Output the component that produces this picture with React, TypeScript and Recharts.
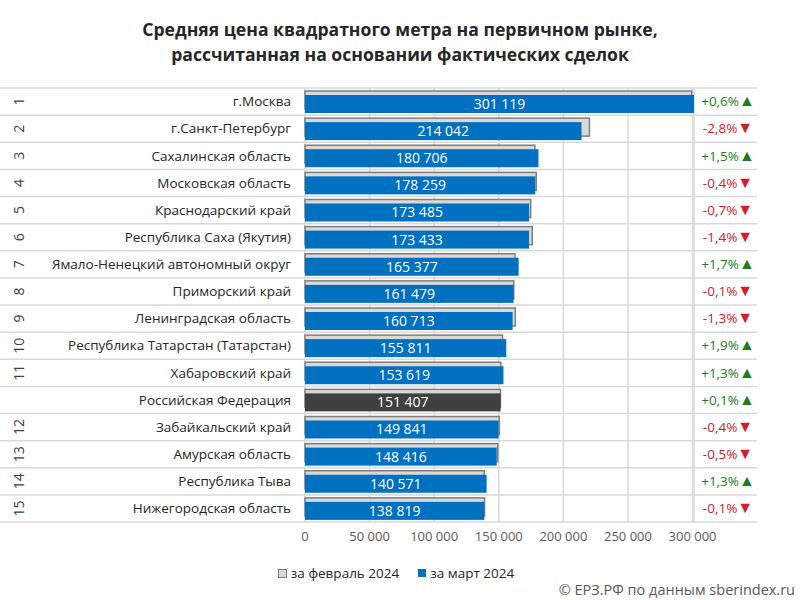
import React from "react";
import { BarChart, Bar, XAxis, YAxis, CartesianGrid, LabelList } from "recharts";

const regions = [
  "г.Москва",
  "г.Санкт-Петербург",
  "Сахалинская область",
  "Московская область",
  "Краснодарский край",
  "Республика Саха (Якутия)",
  "Ямало-Ненецкий автономный округ",
  "Приморский край",
  "Ленинградская область",
  "Республика Татарстан (Татарстан)",
  "Хабаровский край",
  "Российская Федерация",
  "Забайкальский край",
  "Амурская область",
  "Республика Тыва",
  "Нижегородская область",
];
const ranks = ["1", "2", "3", "4", "5", "6", "7", "8", "9", "10", "11", "", "12", "13", "14", "15"];
const march = [301119, 214042, 180706, 178259, 173485, 173433, 165377, 161479, 160713, 155811, 153619, 151407, 149841, 148416, 140571, 138819];
const february = [299300, 220200, 178000, 179000, 174700, 175900, 162600, 161600, 162800, 152900, 151600, 151300, 150400, 149200, 138800, 139000];
const changes = ["+0,6%", "-2,8%", "+1,5%", "-0,4%", "-0,7%", "-1,4%", "+1,7%", "-0,1%", "-1,3%", "+1,9%", "+1,3%", "+0,1%", "-0,4%", "-0,5%", "+1,3%", "-0,1%"];
const xTicks = [0, 50000, 100000, 150000, 200000, 250000, 300000];

const data = regions.map((name, i) => ({
  name,
  rank: ranks[i],
  feb: february[i],
  mar: march[i],
  change: changes[i],
}));

const FONT = "'Open Sans', 'Noto Sans', sans-serif";
const fmt = (v: number) => v.toLocaleString("ru-RU").replace(/\u00a0|\u202f/g, " ");

const LeftTick = (props: any) => {
  const { x, y, payload, index } = props;
  const half = payload.offset ?? 13.5;
  const d = data[index];
  return (
    <g>
      {index === 0 && <line x1={0} x2={757} y1={y - half} y2={y - half} stroke="#d9d9d9" strokeWidth={1.5} />}
      <line x1={0} x2={757} y1={y + half} y2={y + half} stroke="#d9d9d9" strokeWidth={1.5} />
      <text x={x - 6} y={y} dy="0.35em" textAnchor="end" fontSize={13.5} fill="#262626" fontFamily={FONT}>
        {payload.value}
      </text>
      {d.rank && (
        <text
          x={19}
          y={y}
          textAnchor="middle"
          dy="0.35em"
          fontSize={14}
          fill="#404040"
          fontFamily={FONT}
          transform={`rotate(-90 19 ${y})`}
        >
          {d.rank}
        </text>
      )}
    </g>
  );
};

const RightTick = (props: any) => {
  const { x, y, index } = props;
  const d = data[index];
  const up = d.change.startsWith("+");
  return (
    <text x={x + 26} y={y} dy="0.35em" textAnchor="middle" fontSize={13.5} fontFamily={FONT} fill={up ? "#1e7b1e" : "#d0202a"}>
      {d.change}
      <tspan fontSize={16}>{up ? "▲" : "▼"}</tspan>
    </text>
  );
};

const FebShape = (props: any) => {
  const { x, y, width, height } = props;
  return <rect x={x} y={y} width={width} height={height} fill="#d9d9d9" stroke="#7f7f7f" strokeWidth={1.5} />;
};

const MarShape = (props: any) => {
  const { x, y, width, height, index } = props;
  const fill = data[index].name === "Российская Федерация" ? "#404040" : "#0070c0";
  return <rect x={x} y={y} width={width} height={height} fill={fill} />;
};

export default function App() {
  return (
    <div style={{ position: "absolute", left: 0, top: 0, width: 800, height: 600, background: "#fff", fontFamily: FONT }}>
      <div
        style={{
          position: "absolute",
          top: 17,
          left: 0,
          width: 800,
          textAlign: "center",
          fontWeight: 700,
          fontSize: 17.6,
          lineHeight: "25px",
          color: "#262626",
        }}
      >
        Средняя цена квадратного метра на первичном рынке,
        <br />
        рассчитанная на основании фактических сделок
      </div>
      <BarChart
        width={800}
        height={600}
        data={data}
        layout="vertical"
        margin={{ top: 88, right: 40, bottom: 48, left: 0 }}
        barSize={18}
        barGap={-14}
      >
        <CartesianGrid horizontal={false} stroke="#d9d9d9" strokeWidth={1.5} />
        <XAxis
          type="number"
          domain={[0, 300000]}
          ticks={xTicks}
          tickFormatter={fmt}
          axisLine={false}
          tickLine={false}
          tickMargin={4}
          height={30}
          tick={{ fill: "#595959", fontSize: 13, fontFamily: FONT }}
        />
        <YAxis
          yAxisId="left"
          type="category"
          dataKey="name"
          width={305}
          axisLine={false}
          tickLine={false}
          interval={0}
          tick={<LeftTick />}
        />
        <YAxis
          yAxisId="right"
          orientation="right"
          type="category"
          dataKey="name"
          width={66}
          axisLine={false}
          tickLine={false}
          interval={0}
          tick={<RightTick />}
        />
        <Bar yAxisId="left" dataKey="feb" name="за февраль 2024" shape={<FebShape />} isAnimationActive={false} />
        <Bar yAxisId="left" dataKey="mar" name="за март 2024" shape={<MarShape />} isAnimationActive={false}>
          <LabelList dataKey="mar" position="center" formatter={(v: any) => fmt(Number(v))} fill="#ffffff" fontSize={14} fontFamily={FONT} />
        </Bar>
      </BarChart>
      <div
        style={{
          position: "absolute",
          top: 564,
          left: -4,
          width: 800,
          display: "flex",
          justifyContent: "center",
          gap: 19,
          fontSize: 13.5,
          color: "#262626",
        }}
      >
        <span style={{ display: "flex", alignItems: "center" }}>
          <span style={{ width: 7, height: 7, background: "#d9d9d9", border: "1px solid #7f7f7f", marginRight: 4 }} />
          за февраль 2024
        </span>
        <span style={{ display: "flex", alignItems: "center" }}>
          <span style={{ width: 8, height: 8, background: "#0070c0", marginRight: 4 }} />
          за март 2024
        </span>
      </div>
      <div style={{ position: "absolute", right: 5, top: 580, fontSize: 14.5, color: "#595959" }}>
        © ЕРЗ.РФ по данным sberindex.ru
      </div>
    </div>
  );
}
